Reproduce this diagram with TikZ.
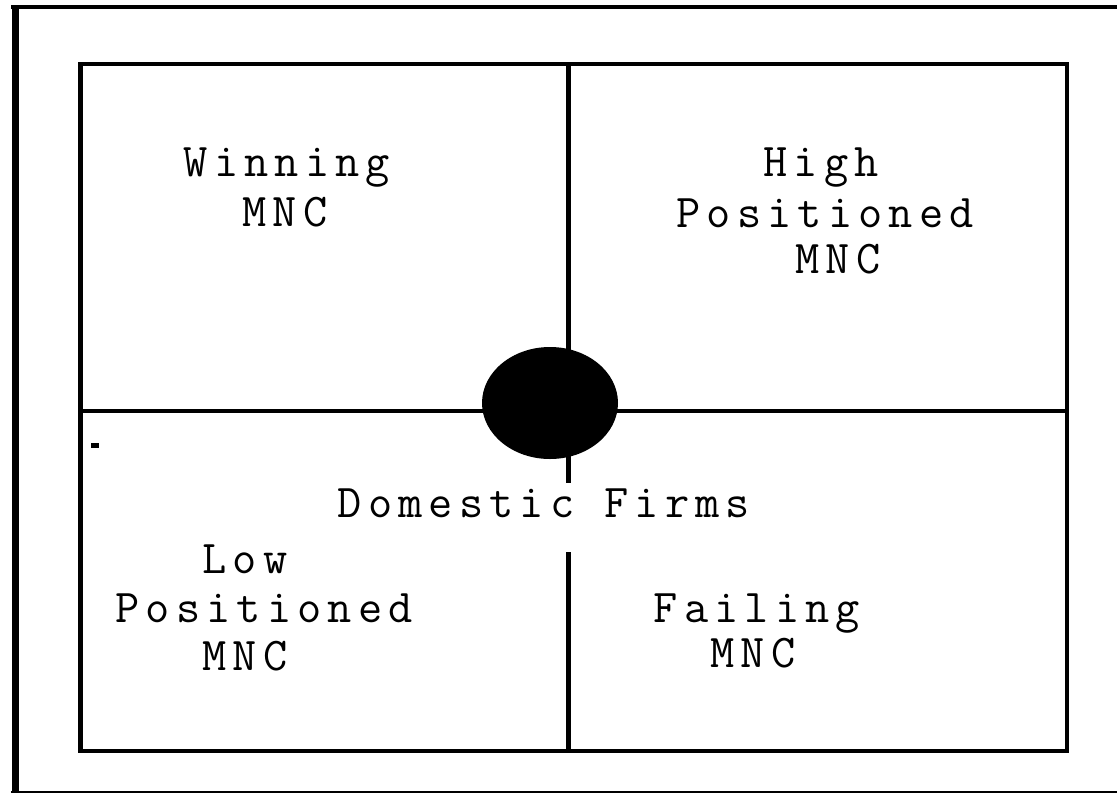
\documentclass[tikz,border=0pt]{standalone}
\usepackage{fontspec}
\newfontfamily\labelfont[LetterSpace=13]{Latin Modern Mono}
\begin{document}
\begin{tikzpicture}[x=1pt,y=-1pt,
  lbl/.style={anchor=base,inner sep=0pt,font=\labelfont\fontsize{47}{50}\selectfont}]
\useasboundingbox (0,0) rectangle (1117,793);
\fill[white] (0,0) rectangle (1117,793);
% outer frame (open on the right)
\draw[line width=4pt] (11,7) -- (1117,7);
\draw[line width=7pt] (15,5) -- (15,793);
\draw[line width=1.5pt] (11,792) -- (1117,792);
% inner box
\draw[line width=4pt,line cap=rect] (80,64) rectangle (1067,751);
\draw[line width=5pt] (80,64) -- (80,751);
% axes
\coordinate (vt) at (568,64);
\coordinate (vm) at (568,483);
\coordinate (vn) at (568,552);
\coordinate (vb) at (568,751);
\coordinate (hl) at (80,411);
\coordinate (hr) at (1067,411);
\draw[line width=3.5pt] (hl) -- (hr);
\draw[line width=5pt] (vt) -- (vm);
\draw[line width=5pt] (vn) -- (vb);
% centre blob
\fill (550,403) ellipse [x radius=68, y radius=56];
% small mark
\fill (91,443) rectangle (99,448);
% labels
\node[lbl] (w1) at (287,176) {Winning};
\node[lbl] (w2) at (285,226) {MNC};
\node[lbl] (h1) at (821,176) {High};
\node[lbl] (h2) at (825,227) {Positioned};
\node[lbl] (h3) at (838,273) {MNC};
\node[lbl] (d1) at (544,517) {Domestic Firms};
\node[lbl] (l1) at (245,573) {Low};
\node[lbl] (l2) at (264,622) {Positioned};
\node[lbl] (l3) at (245,670) {MNC};
\node[lbl] (f1) at (757,622) {Failing};
\node[lbl] (f2) at (753,667) {MNC};
\end{tikzpicture}
\end{document}
